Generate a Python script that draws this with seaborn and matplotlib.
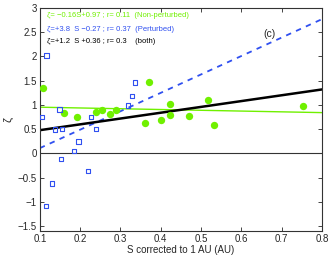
import matplotlib
matplotlib.use("Agg")
from matplotlib import pyplot as plt
import numpy as np
import pandas as pd
import seaborn as sns

# Non-perturbed events (filled green circles)
s_green = [0.107, 0.159, 0.193, 0.239, 0.254, 0.274, 0.288, 0.360, 0.372,
           0.401, 0.423, 0.423, 0.471, 0.517, 0.531, 0.754]
z_green = [1.34, 0.84, 0.75, 0.86, 0.89, 0.82, 0.89, 0.63, 1.47,
           0.69, 1.01, 0.80, 0.78, 1.10, 0.58, 0.97]

# Perturbed events (open blue squares)
s_blue = [0.117, 0.106, 0.149, 0.227, 0.240, 0.318, 0.328, 0.336, 0.138,
          0.155, 0.196, 0.185, 0.152, 0.219, 0.130, 0.115]
z_blue = [2.02, 0.75, 0.905, 0.75, 0.51, 0.99, 1.19, 1.46, 0.49,
          0.51, 0.25, 0.05, -0.12, -0.36, -0.62, -1.08]

# fitted lines: slope, intercept
fit_names = ["Non-perturbed", "Perturbed", "both"]
fit_slopes = [-0.16, 3.8, 1.2]
fit_intercepts = [0.97, -0.27, 0.36]
fit_labels = ["ζ= −0.16S+0.97 ; r= 0.11  (Non-perturbed)",
              "ζ=+3.8  S −0.27 ; r= 0.37  (Perturbed)",
              "ζ=+1.2  S +0.36 ; r= 0.3    (both)"]

x_ticks = [0.1, 0.2, 0.3, 0.4, 0.5, 0.6, 0.7, 0.8]
y_ticks = [-1.5, -1, -0.5, 0, 0.5, 1, 1.5, 2, 2.5, 3]

green = "#70f000"
blue = "#3050f0"

sns.set_style("ticks")
plt.rcParams['font.family'] = ['Liberation Sans', 'DejaVu Sans']
plt.rcParams['axes.linewidth'] = 0.8

fig = plt.figure(figsize=(3.32, 2.57), dpi=100)
ax = fig.add_axes([0.120, 0.101, 0.850, 0.868])

ax.axhline(0, color="#333333", lw=0.8, zorder=1)

xs = np.array([0.1, 0.8])
line_styles = [dict(color=green, lw=1.0, ls="-"),
               dict(color=blue, lw=1.3, ls=(0, (3, 3))),
               dict(color="black", lw=1.8, ls="-")]
for m, b, st in zip(fit_slopes, fit_intercepts, line_styles):
    ax.plot(xs, m * xs + b, zorder=2, **st)

df_g = pd.DataFrame({"S": s_green, "zeta": z_green})
df_b = pd.DataFrame({"S": s_blue, "zeta": z_blue})
sns.scatterplot(data=df_g, x="S", y="zeta", ax=ax, color=green, s=28,
                edgecolor=green, linewidth=0, zorder=3)
sns.scatterplot(data=df_b, x="S", y="zeta", ax=ax, marker="s", s=10,
                color=blue, facecolor="none", edgecolor=blue,
                linewidth=0.8, zorder=3)

ax.set_xlim(0.1, 0.8)
ax.set_ylim(-1.6, 3)
ax.set_xticks(x_ticks)
ax.set_yticks(y_ticks)
ax.set_xticklabels([f"{v:g}" for v in x_ticks], fontsize=7)
ax.set_yticklabels([f"{v:g}".replace("-", "−") for v in y_ticks], fontsize=7)
ax.tick_params(direction="in", length=3, width=0.6, top=True, right=True, pad=2)
ax.set_xlabel("S corrected to 1 AU (AU)", fontsize=7, labelpad=1)
ax.set_ylabel("ζ", fontsize=8, labelpad=3)

text_colors = [green, blue, "black"]
text_y = [2.85, 2.56, 2.30]
for lab, c, y in zip(fit_labels, text_colors, text_y):
    ax.text(0.117, y, lab, color=c, fontsize=5.5, va="center", ha="left")
ax.text(0.670, 2.47, "(c)", fontsize=7.5, ha="center", va="center")

for sp in ax.spines.values():
    sp.set_color("#333333")

fig.savefig("out.png", dpi=100)
